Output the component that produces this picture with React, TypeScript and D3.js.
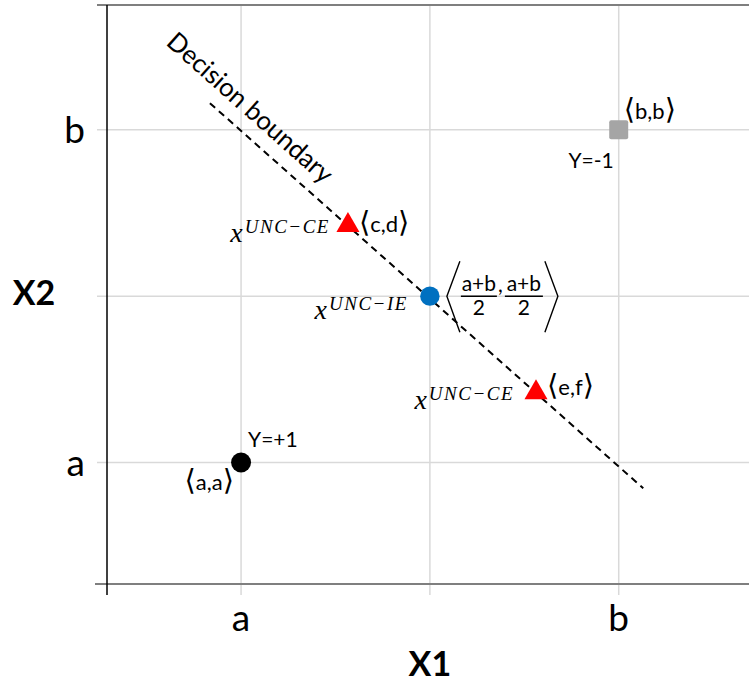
import React, { useEffect, useRef } from 'react';
import * as d3 from 'd3';

// axis values: a = 1, (a+b)/2 = 2, b = 3
const gridValues = [1, 2, 3];
const tickValues = [1, 3];
const tickLabels = ['a', 'b'];

// labelled training points
const classX = [1, 3];
const classY = [1, 3];
const classNames = ['a,a', 'b,b'];
const classTargets = ['Y=+1', 'Y=-1'];

// uncertain points on the boundary
const ceX = [1.566, 2.562];
const ceY = [2.426, 1.421];
const ceNames = ['c,d', 'e,f'];
const ieX = [2];
const ieY = [2];

// dashed decision boundary end points
const boundaryX = [0.835, 3.13];
const boundaryY = [3.16, 0.845];

const FONT = 'Lato, "Open Sans", sans-serif';
const MATH = '"Liberation Serif", "DejaVu Serif", serif';
const BRACKET = '"DejaVu Sans", sans-serif';

function App() {
    const ref = useRef<SVGSVGElement>(null);

    useEffect(() => {
        const svg = d3.select(ref.current);
        svg.selectAll('*').remove();

        const x = d3.scaleLinear().domain([0.29, 3.69]).range([107, 749]);
        const y = d3.scaleLinear().domain([0.27, 3.75]).range([584, 5]);
        const top = y(3.75), bottom = y(0.27), left = x(0.29);

        // gridlines (they run past the axes as tick marks)
        svg.selectAll('.hgrid')
            .data(gridValues)
            .enter()
            .append('line')
            .attr('x1', left - 10).attr('x2', 749)
            .attr('y1', d => y(d)).attr('y2', d => y(d))
            .attr('stroke', '#d9d9d9').attr('stroke-width', 1.5);

        svg.selectAll('.vgrid')
            .data(gridValues)
            .enter()
            .append('line')
            .attr('x1', d => x(d)).attr('x2', d => x(d))
            .attr('y1', top).attr('y2', bottom + 11)
            .attr('stroke', '#d9d9d9').attr('stroke-width', 1.5);

        // frame lines
        svg.append('line')
            .attr('x1', left - 10).attr('x2', 749).attr('y1', top).attr('y2', top)
            .attr('stroke', '#7f7f7f').attr('stroke-width', 2);
        svg.append('line')
            .attr('x1', left - 12).attr('x2', 749).attr('y1', bottom).attr('y2', bottom)
            .attr('stroke', '#7f7f7f').attr('stroke-width', 2);
        svg.append('line')
            .attr('x1', left).attr('x2', left).attr('y1', top).attr('y2', bottom + 11)
            .attr('stroke', '#000').attr('stroke-width', 1.5);

        // tick labels
        svg.selectAll('.ylab')
            .data(tickValues)
            .enter()
            .append('text')
            .attr('x', left - 22)
            .attr('y', d => y(d) + 13)
            .attr('text-anchor', 'end')
            .attr('font-family', FONT).attr('font-size', 37)
            .text((d, i) => tickLabels[i]);

        svg.selectAll('.xlab')
            .data(tickValues)
            .enter()
            .append('text')
            .attr('x', d => x(d))
            .attr('y', bottom + 47)
            .attr('text-anchor', 'middle')
            .attr('font-family', FONT).attr('font-size', 37)
            .text((d, i) => tickLabels[i]);

        // axis titles
        svg.append('text')
            .attr('x', x(2)).attr('y', 676)
            .attr('text-anchor', 'middle')
            .attr('font-family', FONT).attr('font-size', 34).attr('font-weight', 'bold')
            .text('X1');
        svg.append('text')
            .attr('x', 34).attr('y', y(2) + 9)
            .attr('text-anchor', 'middle')
            .attr('font-family', FONT).attr('font-size', 34).attr('font-weight', 'bold')
            .text('X2');

        // decision boundary
        const boundary = boundaryX.map((d, i) => [x(d), y(boundaryY[i])] as [number, number]);
        svg.append('path')
            .attr('d', d3.line()(boundary))
            .attr('fill', 'none')
            .attr('stroke', '#000').attr('stroke-width', 2)
            .attr('stroke-dasharray', '7,5');

        const angle = Math.atan2(boundary[1][1] - boundary[0][1], boundary[1][0] - boundary[0][0]) * 180 / Math.PI;
        svg.append('text')
            .attr('transform', `translate(165,44) rotate(${angle})`)
            .attr('font-family', FONT).attr('font-size', 26)
            .attr('textLength', 212).attr('lengthAdjust', 'spacingAndGlyphs')
            .text('Decision boundary');

        const bracketLabel = (px: number, py: number, inner: string, anchor: string) => {
            const t = svg.append('text')
                .attr('x', px).attr('y', py)
                .attr('text-anchor', anchor)
                .attr('font-family', FONT).attr('font-size', 22);
            t.append('tspan').attr('font-family', BRACKET).attr('font-size', 29).text('⟨');
            t.append('tspan').text(inner);
            t.append('tspan').attr('font-family', BRACKET).attr('font-size', 29).text('⟩');
        };

        const mathLabel = (px: number, py: number, sup: string) => {
            const t = svg.append('text')
                .attr('x', px).attr('y', py)
                .attr('text-anchor', 'end')
                .attr('font-family', MATH).attr('font-style', 'italic');
            t.append('tspan').attr('font-size', 28).text('x');
            t.append('tspan').attr('font-size', 19).attr('dy', -9).attr('dx', 2)
                .attr('letter-spacing', 1.5).text(sup);
        };

        // class points
        svg.append('circle')
            .attr('cx', x(classX[0])).attr('cy', y(classY[0])).attr('r', 10)
            .attr('fill', '#000');
        svg.append('rect')
            .attr('x', x(classX[1]) - 9.5).attr('y', y(classY[1]) - 9.5)
            .attr('width', 19).attr('height', 19).attr('rx', 2)
            .attr('fill', '#a5a5a5');

        svg.append('text')
            .attr('x', x(classX[0]) + 7).attr('y', y(classY[0]) - 16)
            .attr('font-family', FONT).attr('font-size', 21)
            .text(classTargets[0]);
        bracketLabel(x(classX[0]) - 7, y(classY[0]) + 27, classNames[0], 'end');

        svg.append('text')
            .attr('x', x(classX[1]) - 5).attr('y', y(classY[1]) + 38)
            .attr('text-anchor', 'end')
            .attr('font-family', FONT).attr('font-size', 21)
            .text(classTargets[1]);
        bracketLabel(x(classX[1]) + 5, y(classY[1]) - 11, classNames[1], 'start');

        // contrastive examples (triangles)
        ceX.forEach((d, i) => {
            const px = x(d), py = y(ceY[i]);
            svg.append('path')
                .attr('d', d3.symbol(d3.symbolTriangle, 230)())
                .attr('transform', `translate(${px},${py})`)
                .attr('fill', '#ff0000');
            bracketLabel(px + 11, py + (i === 0 ? 7 : 3), ceNames[i], 'start');
            mathLabel(px - (i === 0 ? 18 : 22), py + 17, 'UNC−CE');
        });

        // instance on the boundary
        const ix = x(ieX[0]), iy = y(ieY[0]);
        svg.append('circle')
            .attr('cx', ix).attr('cy', iy).attr('r', 9.7)
            .attr('fill', '#0070c0');
        mathLabel(ix - 22, iy + 23, 'UNC−IE');

        // ⟨(a+b)/2, (a+b)/2⟩
        const frac = svg.append('g').attr('font-family', FONT).attr('font-size', 21);
        frac.append('path')
            .attr('d', `M${ix + 30},${iy - 35}L${ix + 17},${iy}L${ix + 30},${iy + 36}`)
            .attr('fill', 'none').attr('stroke', '#000').attr('stroke-width', 1.4);
        frac.append('path')
            .attr('d', `M${ix + 115},${iy - 35}L${ix + 128},${iy}L${ix + 115},${iy + 36}`)
            .attr('fill', 'none').attr('stroke', '#000').attr('stroke-width', 1.4);
        [[ix + 31, ix + 67], [ix + 75, ix + 113]].forEach(([a, b]) => {
            const cx = (a + b) / 2;
            frac.append('text').attr('x', cx).attr('y', iy - 5).attr('text-anchor', 'middle').text('a+b');
            frac.append('line').attr('x1', a).attr('x2', b).attr('y1', iy).attr('y2', iy)
                .attr('stroke', '#000').attr('stroke-width', 1.5);
            frac.append('text').attr('x', cx).attr('y', iy + 19).attr('text-anchor', 'middle').text('2');
        });
        frac.append('text').attr('x', ix + 68).attr('y', iy - 4).text(',');
    }, []);

    return (
        <svg ref={ref} width={749} height={684}
            style={{ position: 'absolute', left: 0, top: 0, background: '#fff' }} />
    );
}

export default App;
